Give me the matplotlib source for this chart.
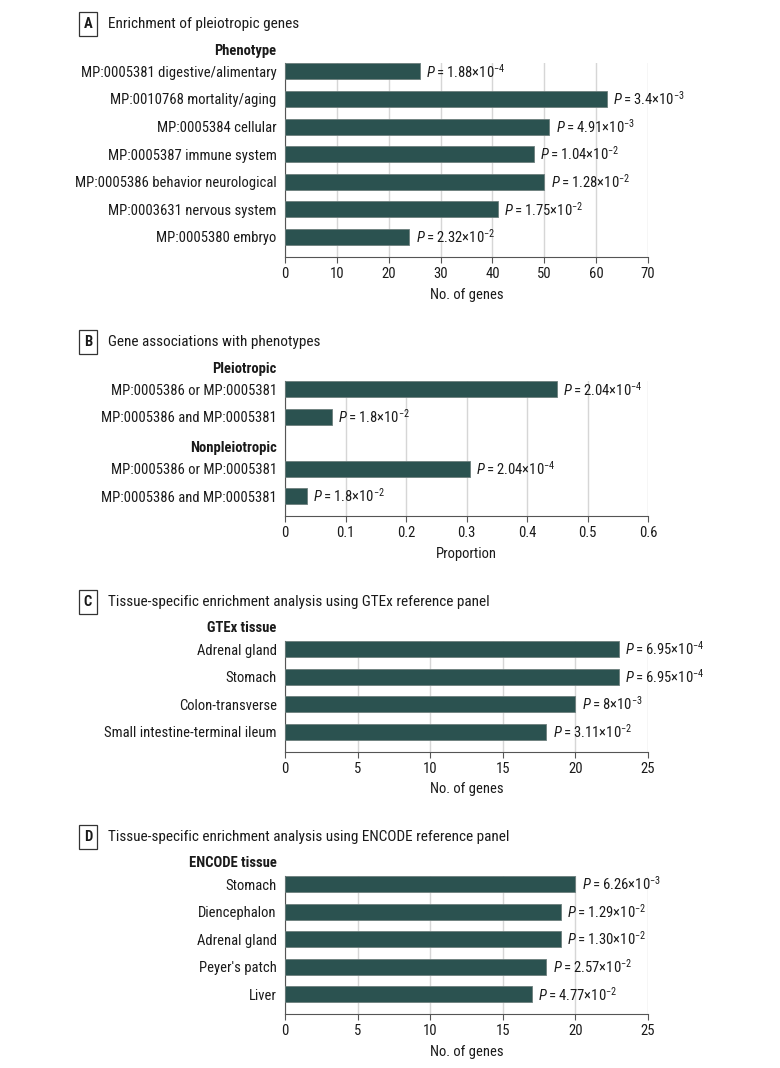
import matplotlib
matplotlib.use("Agg")
import matplotlib.pyplot as plt
from matplotlib import font_manager

# ---------------- data ----------------
A_labels = ["MP:0005381 digestive/alimentary", "MP:0010768 mortality/aging",
            "MP:0005384 cellular", "MP:0005387 immune system",
            "MP:0005386 behavior neurological", "MP:0003631 nervous system",
            "MP:0005380 embryo"]
A_values = [26, 62, 51, 48, 50, 41, 24]
A_p_mant = ["1.88", "3.4", "4.91", "1.04", "1.28", "1.75", "2.32"]
A_p_exp = [-4, -3, -3, -2, -2, -2, -2]
A_ticks = [0, 10, 20, 30, 40, 50, 60, 70]

B_groups = ["Pleiotropic", "Nonpleiotropic"]
B_labels = ["MP:0005386 or MP:0005381", "MP:0005386 and MP:0005381",
            "MP:0005386 or MP:0005381", "MP:0005386 and MP:0005381"]
B_values = [0.449, 0.077, 0.305, 0.036]
B_p_mant = ["2.04", "1.8", "2.04", "1.8"]
B_p_exp = [-4, -2, -4, -2]
B_ticks = [0, 0.1, 0.2, 0.3, 0.4, 0.5, 0.6]
B_ticklabels = ["0", "0.1", "0.2", "0.3", "0.4", "0.5", "0.6"]

C_labels = ["Adrenal gland", "Stomach", "Colon-transverse",
            "Small intestine-terminal ileum"]
C_values = [23, 23, 20, 18]
C_p_mant = ["6.95", "6.95", "8", "3.11"]
C_p_exp = [-4, -4, -3, -2]
C_ticks = [0, 5, 10, 15, 20, 25]

D_labels = ["Stomach", "Diencephalon", "Adrenal gland", "Peyer's patch", "Liver"]
D_values = [20, 19, 19, 18, 17]
D_p_mant = ["6.26", "1.29", "1.30", "2.57", "4.77"]
D_p_exp = [-3, -2, -2, -2, -2]
D_ticks = [0, 5, 10, 15, 20, 25]

# ---------------- style ----------------
avail = {f.name for f in font_manager.fontManager.ttflist}
family = "DejaVu Sans"
for cand in ["Liberation Sans Narrow", "Roboto Condensed", "Open Sans Condensed",
             "DejaVu Sans Condensed", "Noto Sans", "Lato"]:
    if cand in avail:
        family = cand
        break
plt.rcParams["font.family"] = [family, "DejaVu Sans"]
plt.rcParams["mathtext.fontset"] = "custom"
plt.rcParams["mathtext.rm"] = family
plt.rcParams["mathtext.it"] = family + ":italic"
plt.rcParams["mathtext.bf"] = family + ":bold"

BAR = "#2b5250"
EDGE = "#6d7f7d"
GRID = "#d6d6d6"
AXC = "#555555"
TXT = "#1a1a1a"
FS = 10.5

W, H = 780, 1068
fig = plt.figure(figsize=(W / 100, H / 100), dpi=100)

X0, X1 = 285, 648
SP = 27.6  # px per slot


def ptxt(mant, exp):
    return r"$\mathit{P}$" + "\u2009=\u2009" + mant + "\u00d710" + r"$^{%d}$" % exp


def panel(top_px, positions, labels, values, mants, exps, ticks, ticklabels,
          xmax, xlabel, letter, title, header):
    last = max(positions)
    ylo, yhi = last + 0.725, -0.29
    hpx = (ylo - yhi) * SP
    ax = fig.add_axes([X0 / W, 1 - (top_px + hpx) / H, (X1 - X0) / W, hpx / H])
    ax.barh(positions, values, height=0.58, color=BAR, edgecolor=EDGE,
            linewidth=0.6, zorder=3)
    ax.set_ylim(ylo, yhi)
    ax.set_xlim(0, xmax)
    ax.set_xticks(ticks)
    ax.set_xticklabels(ticklabels if ticklabels else [str(t) for t in ticks])
    ax.set_yticks(positions)
    ax.set_yticklabels(labels)
    ax.tick_params(axis="y", length=0, pad=6, labelsize=FS, labelcolor=TXT)
    ax.tick_params(axis="x", length=4, width=0.8, color=AXC, pad=3,
                   labelsize=FS, labelcolor=TXT)
    for s in ["top", "right"]:
        ax.spines[s].set_visible(False)
    for s in ["left", "bottom"]:
        ax.spines[s].set_color(AXC)
        ax.spines[s].set_linewidth(0.8)
    ax.grid(axis="x", color=GRID, linewidth=1.0, zorder=0)
    ax.set_axisbelow(True)
    ax.set_xlabel(xlabel, fontsize=FS, color=TXT, labelpad=5)
    for p, v, m, e in zip(positions, values, mants, exps):
        ax.annotate(ptxt(m, e), xy=(v, p), xytext=(4.5, 0),
                    textcoords="offset points", ha="left", va="center",
                    fontsize=FS, color=TXT, annotation_clip=False)
    for (htxt, hy) in header:
        if hy is None:
            ax.annotate(htxt, xy=(0, 1), xycoords="axes fraction",
                        xytext=(-6, 9.2), textcoords="offset points",
                        ha="right", va="center", fontsize=FS,
                        fontweight="bold", color=TXT, annotation_clip=False)
        else:
            ax.annotate(htxt, xy=(0, hy), xycoords=("axes fraction", "data"),
                        xytext=(-6, 0), textcoords="offset points",
                        ha="right", va="center", fontsize=FS,
                        fontweight="bold", color=TXT, annotation_clip=False)
    ty = top_px - 39
    fig.text(88 / W, 1 - ty / H, letter, ha="center", va="center",
             fontsize=FS, fontweight="bold", color=TXT,
             bbox=dict(boxstyle="square,pad=0.35", fc="white", ec="#333333",
                       lw=0.9))
    fig.text(108 / W, 1 - ty / H, title, ha="left", va="center",
             fontsize=FS + 0.5, color=TXT)
    return ax


# Panel A
panel(63.3, list(range(len(A_labels))), A_labels, A_values, A_p_mant, A_p_exp,
      A_ticks, None, 70, "No. of genes", "A", "Enrichment of pleiotropic genes",
      [("Phenotype", None)])

# Panel B
B_pos = [0, 1, 2.87, 3.87]
panel(381.3, B_pos, B_labels, B_values, B_p_mant, B_p_exp,
      B_ticks, B_ticklabels, 0.6, "Proportion", "B",
      "Gene associations with phenotypes",
      [(B_groups[0], None), (B_groups[1], 2.12)])

# Panel C
panel(641, list(range(len(C_labels))), C_labels, C_values, C_p_mant, C_p_exp,
      C_ticks, None, 25, "No. of genes", "C",
      "Tissue-specific enrichment analysis using GTEx reference panel",
      [("GTEx tissue", None)])

# Panel D
panel(876, list(range(len(D_labels))), D_labels, D_values, D_p_mant, D_p_exp,
      D_ticks, None, 25, "No. of genes", "D",
      "Tissue-specific enrichment analysis using ENCODE reference panel",
      [("ENCODE tissue", None)])

fig.savefig("out.png", dpi=100, facecolor="white")
